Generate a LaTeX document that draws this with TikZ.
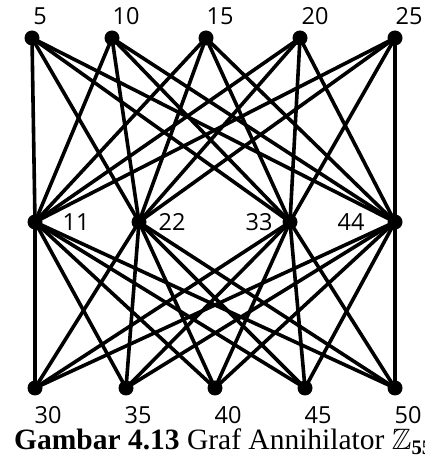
\documentclass[tikz,border=0pt]{standalone}
\usepackage{amssymb}
\usepackage{fontspec}
\setmainfont{Liberation Serif}
\newfontfamily\lblfont{Open Sans}
\begin{document}
\begin{tikzpicture}[x=1pt,y=1pt,
  vtx/.style={circle,fill=black,inner sep=0pt,minimum size=15pt},
  lbl/.style={font=\lblfont\fontsize{23.5}{23.5}\selectfont,inner sep=0pt},
  edge/.style={line width=3.6pt}]
\useasboundingbox (0,0) rectangle (425,461);
% top row
\node[vtx] (v5)  at (32,423) {};
\node[vtx] (v10) at (112,423) {};
\node[vtx] (v15) at (206,423) {};
\node[vtx] (v20) at (300,423) {};
\node[vtx] (v25) at (395,423) {};
% middle row
\node[vtx] (v11) at (35,239) {};
\node[vtx] (v22) at (139,239) {};
\node[vtx] (v33) at (290,239) {};
\node[vtx] (v44) at (395,239) {};
% bottom row
\node[vtx] (v30) at (35,73) {};
\node[vtx] (v35) at (126,73) {};
\node[vtx] (v40) at (215,73) {};
\node[vtx] (v45) at (305,73) {};
\node[vtx] (v50) at (395,73) {};
% edges
\foreach \a in {5,10,15,20,25,30,35,40,45,50}{
  \foreach \b in {11,22,33,44}{
    \draw[edge] (v\a.center) -- (v\b.center);
  }
}
% labels
\node[lbl] (l5)  at (40,445) {5};
\node[lbl] (l10) at (126,445) {10};
\node[lbl] (l15) at (220,445) {15};
\node[lbl] (l20) at (315,445) {20};
\node[lbl] (l25) at (409,445) {25};
\node[lbl] (l11) at (76,239) {11};
\node[lbl] (l22) at (172,239) {22};
\node[lbl] (l33) at (259,239) {33};
\node[lbl] (l44) at (351,239) {44};
\node[lbl] (l30) at (48,46) {30};
\node[lbl] (l35) at (138,46) {35};
\node[lbl] (l40) at (228,46) {40};
\node[lbl] (l45) at (318,46) {45};
\node[lbl] (l50) at (408,46) {50};
% caption
\node[anchor=base west,inner sep=0pt,font=\fontsize{29.5}{29.5}\selectfont] (cap) at (14,11) {\textbf{Gambar 4.13} Graf Annihilator $\mathbb{Z}_{\mathbf{55}}$};
\end{tikzpicture}
\end{document}
